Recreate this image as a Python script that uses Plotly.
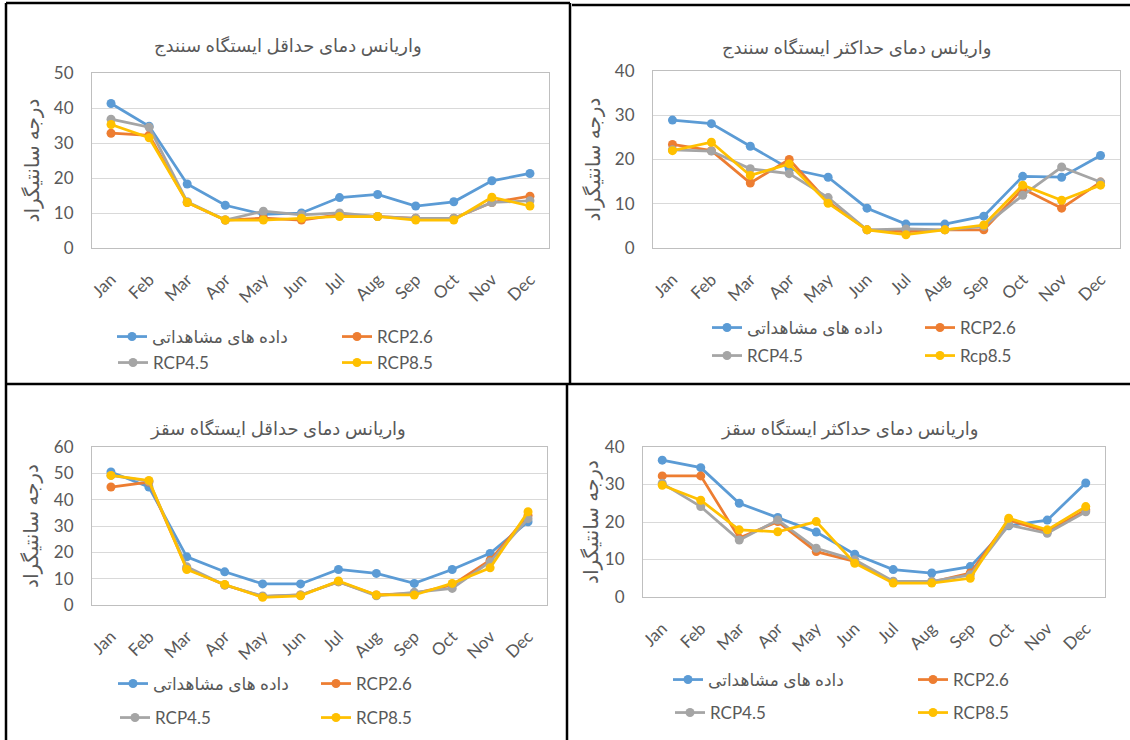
import plotly.graph_objects as go

months = ["Jan", "Feb", "Mar", "Apr", "May", "Jun", "Jul", "Aug", "Sep", "Oct", "Nov", "Dec"]
series_names = ["داده های مشاهداتی", "RCP2.6", "RCP4.5", "RCP8.5"]
series_names_tr = ["داده های مشاهداتی", "RCP2.6", "RCP4.5", "Rcp8.5"]

# Panel 1: variance of minimum temperature, Sanandaj
sanandaj_min_obs = [41.3, 34.8, 18.3, 12.2, 9.6, 10.0, 14.4, 15.3, 12.0, 13.2, 19.2, 21.3]
sanandaj_min_rcp26 = [32.8, 32.2, 13.0, 8.0, 8.5, 8.0, 9.5, 9.0, 8.5, 8.5, 13.0, 14.8]
sanandaj_min_rcp45 = [36.8, 34.5, 13.2, 8.0, 10.5, 9.5, 10.0, 9.0, 8.5, 8.5, 13.0, 13.5]
sanandaj_min_rcp85 = [35.3, 31.5, 13.0, 8.0, 8.0, 8.5, 9.0, 9.0, 8.0, 8.0, 14.5, 12.0]

# Panel 2: variance of maximum temperature, Sanandaj
sanandaj_max_obs = [28.9, 28.1, 23.0, 17.9, 16.0, 9.0, 5.4, 5.4, 7.2, 16.2, 16.0, 20.9]
sanandaj_max_rcp26 = [23.4, 22.0, 14.7, 20.0, 10.4, 4.1, 3.7, 4.1, 4.1, 13.4, 9.0, 14.9]
sanandaj_max_rcp45 = [22.2, 21.9, 17.9, 16.8, 11.4, 4.1, 4.3, 4.1, 4.9, 11.9, 18.3, 14.9]
sanandaj_max_rcp85 = [22.0, 23.9, 16.4, 19.0, 10.1, 4.1, 3.0, 4.1, 5.2, 14.2, 10.8, 14.2]

# Panel 3: variance of minimum temperature, Saqqez
saqqez_min_obs = [50.5, 44.8, 18.3, 12.6, 8.0, 8.0, 13.5, 12.0, 8.2, 13.5, 19.6, 31.6]
saqqez_min_rcp26 = [44.8, 46.7, 13.9, 7.6, 3.2, 3.8, 8.8, 3.8, 4.4, 7.6, 17.0, 34.0]
saqqez_min_rcp45 = [49.2, 47.0, 14.5, 7.6, 3.4, 3.8, 8.8, 3.5, 4.8, 6.3, 16.4, 32.8]
saqqez_min_rcp85 = [49.2, 47.3, 13.5, 7.8, 2.9, 3.5, 9.1, 3.8, 3.8, 8.2, 14.1, 35.4]

# Panel 4: variance of maximum temperature, Saqqez
saqqez_max_obs = [36.5, 34.5, 25.0, 21.2, 17.3, 11.4, 7.3, 6.4, 8.1, 19.0, 20.5, 30.4]
saqqez_max_rcp26 = [32.3, 32.3, 15.7, 20.1, 12.1, 9.5, 4.0, 4.0, 6.4, 20.5, 17.4, 23.2]
saqqez_max_rcp45 = [30.3, 24.1, 15.2, 20.5, 13.0, 9.9, 4.2, 4.2, 5.9, 19.2, 17.0, 22.7]
saqqez_max_rcp85 = [29.8, 25.8, 17.9, 17.4, 20.1, 9.0, 3.7, 3.7, 5.0, 21.0, 17.9, 24.1]

titles = [
    "واریانس دمای حداقل ایستگاه سنندج",
    "واریانس دمای حداکثر ایستگاه سنندج",
    "واریانس دمای حداقل ایستگاه سقز",
    "واریانس دمای حداکثر ایستگاه سقز",
]
y_title = "درجه سانتیگراد"
y_max = [50, 40, 60, 40]

colors = ["#5B9BD5", "#ED7D31", "#A5A5A5", "#FFC000"]

W, H = 1130, 740
FONT = "Lato, DejaVu Sans, sans-serif"
GREY_TXT = "#595959"


def px(x):
    return x / W


def py(y):
    return 1 - y / H


panels = [
    dict(data=[sanandaj_min_obs, sanandaj_min_rcp26, sanandaj_min_rcp45, sanandaj_min_rcp85],
         names=series_names, xd=(92, 549), yd=(73, 248), title=(288, 45),
         leg_text=[(152, 337), (377, 337), (153, 363), (377, 363)], standoff=8),
    dict(data=[sanandaj_max_obs, sanandaj_max_rcp26, sanandaj_max_rcp45, sanandaj_max_rcp85],
         names=series_names_tr, xd=(653, 1120), yd=(71, 248), title=(856, 47),
         leg_text=[(747, 328), (960, 328), (747, 356), (960, 356)], standoff=8),
    dict(data=[saqqez_min_obs, saqqez_min_rcp26, saqqez_min_rcp45, saqqez_min_rcp85],
         names=series_names, xd=(92, 547), yd=(447, 605), title=(278, 428),
         leg_text=[(153, 684), (356, 684), (155, 718), (356, 718)], standoff=9),
    dict(data=[saqqez_max_obs, saqqez_max_rcp26, saqqez_max_rcp45, saqqez_max_rcp85],
         names=series_names, xd=(643, 1105), yd=(447, 597), title=(850, 428),
         leg_text=[(708, 680), (953, 680), (710, 713), (953, 713)], standoff=0),
]

fig = go.Figure()
layout = dict(
    width=W, height=H,
    margin=dict(l=0, r=0, t=0, b=0, pad=0, autoexpand=False),
    paper_bgcolor="white", plot_bgcolor="white",
    font=dict(family=FONT, color=GREY_TXT, size=16),
    showlegend=True,
    annotations=[], shapes=[],
)

leg_idx = 0
for i, p in enumerate(panels):
    n = "" if i == 0 else str(i + 1)
    for s, vals in enumerate(p["data"]):
        leg_idx += 1
        lname = "legend" if leg_idx == 1 else f"legend{leg_idx}"
        fig.add_trace(go.Scatter(
            x=months, y=vals, name=p["names"][s], mode="lines+markers",
            xaxis="x" + n, yaxis="y" + n,
            line=dict(color=colors[s], width=2.75),
            marker=dict(color=colors[s], size=9, symbol="circle"),
            legend=lname, showlegend=True,
        ))
        tx, ty = p["leg_text"][s]
        layout[lname] = dict(
            x=px(tx - 40), y=py(ty), xanchor="left", yanchor="middle",
            orientation="h", bgcolor="rgba(0,0,0,0)", borderwidth=0,
            font=dict(family=FONT, size=17, color=GREY_TXT),
            itemclick=False, itemdoubleclick=False, visible=True,
        )
    layout["xaxis" + n] = dict(
        domain=[px(p["xd"][0]), px(p["xd"][1])], anchor="y" + n,
        type="category", range=[-0.5, 11.5], automargin=False,
        tickangle=-45, tickfont=dict(size=17, color=GREY_TXT),
        showline=True, linecolor="#BFBFBF", linewidth=1, mirror=True,
        showgrid=False, ticks="", ticklabelstandoff=14, fixedrange=True,
    )
    layout["yaxis" + n] = dict(
        domain=[py(p["yd"][1]), py(p["yd"][0])], anchor="x" + n,
        range=[0, y_max[i]], dtick=10, tick0=0, automargin=False,
        tickfont=dict(size=17, color=GREY_TXT),
        showline=True, linecolor="#BFBFBF", linewidth=1, mirror=True,
        showgrid=True, gridcolor="#D9D9D9", gridwidth=1, zeroline=False,
        ticks="", ticklabelstandoff=14, fixedrange=True,
        title=dict(text=y_title, font=dict(size=20, color=GREY_TXT), standoff=p["standoff"]),
    )
    layout["annotations"].append(dict(
        text=titles[i], x=px(p["title"][0]), y=py(p["title"][1]),
        xref="paper", yref="paper", xanchor="center", yanchor="middle",
        showarrow=False, font=dict(size=18, color=GREY_TXT, family=FONT),
    ))

# panel frames
frame_lines = [
    (6, 3, 570, 3), (572, 5, 1130, 5),
    (6, 3, 6, 740), (570, 3, 570, 384), (567, 384, 567, 740),
    (6, 384, 1130, 384),
]
for x0, y0, x1, y1 in frame_lines:
    layout["shapes"].append(dict(
        type="line", xref="paper", yref="paper",
        x0=px(x0), y0=py(y0), x1=px(x1), y1=py(y1),
        line=dict(color="black", width=2.5),
    ))

fig.update_layout(**layout)
fig.write_html(
    "out.html",
    config={"displayModeBar": False, "staticPlot": True},
    post_script="document.body.style.margin='0';document.body.style.overflow='hidden';",
)
